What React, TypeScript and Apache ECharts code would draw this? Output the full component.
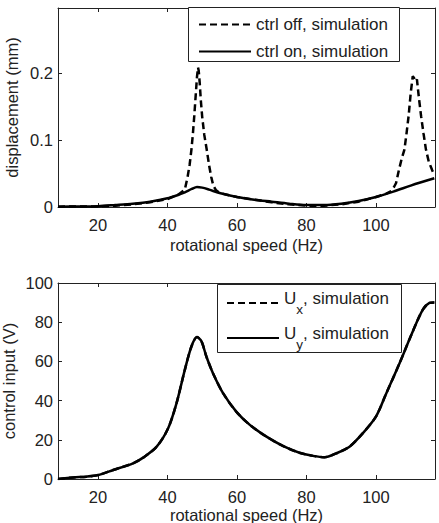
import React, { useEffect, useRef } from "react";
import * as echarts from "echarts";

// Upper panel: displacement vs rotational speed
const offHz = [
  8.5, 15, 20, 25, 30, 35, 40, 43, 45, 45.8, 46.4, 46.9, 47.3, 47.7, 48.1, 48.5, 48.8, 49.0, 49.3,
  49.6, 50.0, 50.6, 51.3, 52.0, 52.6, 53.2, 54, 55, 60, 65, 70, 75, 80, 85, 90, 95, 100, 103, 104.4,
  105.2, 105.8, 106.6, 107.4, 108.2, 108.8, 109.4, 110.0, 110.6, 111.0, 111.4, 111.8, 112.4, 113.0,
  113.7, 114.4, 115.2, 116.2, 116.8,
];
const offDisp = [
  0.0005, 0.0007, 0.001, 0.002, 0.004, 0.007, 0.012, 0.018, 0.026, 0.045, 0.064, 0.086, 0.108, 0.135,
  0.165, 0.195, 0.209, 0.204, 0.185, 0.16, 0.135, 0.108, 0.086, 0.062, 0.045, 0.032, 0.025, 0.021,
  0.015, 0.011, 0.007, 0.004, 0.002, 0.002, 0.004, 0.008, 0.015, 0.02, 0.024, 0.03, 0.036, 0.055,
  0.072, 0.086, 0.11, 0.136, 0.17, 0.196, 0.193, 0.188, 0.191, 0.162, 0.136, 0.11, 0.086, 0.068,
  0.055, 0.048,
];
const onHz = [
  8.5, 15, 20, 25, 30, 35, 40, 43, 45, 47, 48.5, 50, 52, 55, 60, 65, 70, 75, 80, 85, 90, 95, 100, 105,
  110, 113, 116.8,
];
const onDisp = [
  0.0005, 0.0008, 0.0012, 0.003, 0.005, 0.008, 0.013, 0.018, 0.022, 0.027, 0.03, 0.029, 0.026, 0.021,
  0.015, 0.011, 0.008, 0.005, 0.003, 0.003, 0.005, 0.009, 0.015, 0.023, 0.032, 0.037, 0.043,
];

// Lower panel: control input vs rotational speed
const inputHz = [
  8.5, 12.9, 16.7, 20, 24.4, 30.1, 33, 36.9, 40.2, 42.6, 45, 46.9, 48.5, 49.8, 51.2, 53.1, 56, 59.8,
  63.7, 68.5, 73.2, 78, 81.9, 85.2, 88.6, 92.4, 96.2, 100, 103, 106.8, 110.6, 113.5, 115.4, 116.8,
];
const uyVolt = [
  0, 0.8, 1.2, 2.0, 4.6, 8.0, 10.9, 16.5, 25.9, 38.6, 55.7, 67.6, 72.4, 70.2, 62.5, 54.0, 43.8, 34.4,
  27.6, 21.6, 16.9, 13.4, 11.8, 11.1, 13.1, 16.5, 23.3, 31.8, 43.8, 59.1, 75.3, 86.4, 89.8, 90.1,
];
const uxVolt = uyVolt.slice();

const xTicks = [20, 40, 60, 80, 100];
const dispTicks = [0, 0.1, 0.2];
const voltTicks = [0, 20, 40, 60, 80, 100];

const pairs = (xs: number[], ys: number[]) => xs.map((x, i) => [x, ys[i]]);

const ink = "#222";
const font = "'Liberation Sans', Arial, Helvetica, sans-serif";
const dash = [7, 4];
const axisFont = 16.5;
const legendFont = 17;

function xAxisPair(gridIndex: number, nameGap: number) {
  const line = { show: true, onZero: false, lineStyle: { color: ink, width: 1 } };
  const tick = { show: true, inside: true, length: 4, customValues: xTicks, lineStyle: { color: ink } };
  return [
    {
      type: "value", gridIndex, min: 8.5, max: 117, position: "bottom",
      name: "rotational speed (Hz)", nameLocation: "middle", nameGap, nameMoveOverlap: false,
      nameTextStyle: { fontSize: axisFont, color: ink, fontFamily: font },
      axisLine: line, axisTick: tick,
      axisLabel: { customValues: xTicks, fontSize: axisFont, color: ink, fontFamily: font, margin: 9 },
      splitLine: { show: false },
    },
    {
      type: "value", gridIndex, min: 8.5, max: 117, position: "top",
      axisLine: line, axisTick: tick, axisLabel: { show: false }, splitLine: { show: false },
    },
  ];
}

function yAxisPair(gridIndex: number, max: number, ticks: number[], name: string, nameGap: number) {
  const line = { show: true, onZero: false, lineStyle: { color: ink, width: 1 } };
  const tick = { show: true, inside: true, length: 4, customValues: ticks, lineStyle: { color: ink } };
  return [
    {
      type: "value", gridIndex, min: 0, max, position: "left",
      name, nameLocation: "middle", nameGap, nameMoveOverlap: false,
      nameTextStyle: { fontSize: axisFont, color: ink, fontFamily: font },
      axisLine: line, axisTick: tick,
      axisLabel: {
        customValues: ticks, fontSize: axisFont, color: ink, fontFamily: font, margin: 5,
        formatter: (v: number) => String(Math.round(v * 1000) / 1000),
      },
      splitLine: { show: false },
    },
    {
      type: "value", gridIndex, min: 0, max, position: "right",
      axisLine: line, axisTick: tick, axisLabel: { show: false }, splitLine: { show: false },
    },
  ];
}

const legendBase = {
  orient: "vertical", selectedMode: false,
  borderWidth: 0, backgroundColor: "transparent",
  itemWidth: 52, itemHeight: 14,
  itemStyle: { opacity: 0 },
  lineStyle: { opacity: 1 },
};

// Framed legend boxes
const boxStyle = { fill: "#fff", stroke: ink, lineWidth: 1 };

const option: any = {
  animation: false,
  backgroundColor: "#fff",
  textStyle: { fontFamily: font },
  grid: [
    { left: 58, top: 8, width: 377, height: 199, outerBoundsMode: "none" },
    { left: 58, top: 283, width: 377, height: 196, outerBoundsMode: "none" },
  ],
  xAxis: [...xAxisPair(0, 29), ...xAxisPair(1, 27)],
  yAxis: [
    ...yAxisPair(0, 0.298, dispTicks, "displacement (mm)", 38),
    ...yAxisPair(1, 100, voltTicks, "control input (V)", 41),
  ],
  graphic: [
    { type: "rect", z: 3, shape: { x: 188.5, y: 7.5, width: 211, height: 54 }, style: boxStyle },
    { type: "rect", z: 3, shape: { x: 217.5, y: 284.5, width: 184, height: 68 }, style: boxStyle },
  ],
  legend: [
    {
      ...legendBase,
      left: 188, top: 7,
      data: ["ctrl off, simulation", "ctrl on, simulation"],
      padding: [9, 13, 7, 10], itemGap: 10,
      textStyle: { fontSize: legendFont, color: ink, fontFamily: font },
    },
    {
      ...legendBase,
      left: 217, top: 284,
      data: ["Ux", "Uy"],
      padding: [6, 13, 4, 9], itemGap: 9,
      formatter: (n: string) =>
        n === "Ux" ? "{m|U}{s|x}{m|, simulation}" : "{m|U}{s|y}{m|, simulation}",
      textStyle: {
        fontSize: legendFont, color: ink, fontFamily: font,
        rich: {
          m: { fontSize: legendFont, color: ink, fontFamily: font, lineHeight: 26, verticalAlign: "top" },
          s: { fontSize: 13.5, color: ink, fontFamily: font, lineHeight: 16, padding: [12, 0, 0, 0], verticalAlign: "top" },
        },
      },
    },
  ],
  series: [
    {
      name: "ctrl off, simulation", type: "line", xAxisIndex: 0, yAxisIndex: 0,
      data: pairs(offHz, offDisp), showSymbol: false, symbol: "none",
      lineStyle: { color: "#000", width: 2.5, type: dash }, itemStyle: { color: "#000" },
    },
    {
      name: "ctrl on, simulation", type: "line", xAxisIndex: 0, yAxisIndex: 0,
      data: pairs(onHz, onDisp), showSymbol: false, symbol: "none", smooth: 0.3,
      lineStyle: { color: "#000", width: 2.5 }, itemStyle: { color: "#000" },
    },
    {
      name: "Ux", type: "line", xAxisIndex: 2, yAxisIndex: 2,
      data: pairs(inputHz, uxVolt), showSymbol: false, symbol: "none", smooth: 0.3,
      lineStyle: { color: "#000", width: 2.5, type: dash }, itemStyle: { color: "#000" },
    },
    {
      name: "Uy", type: "line", xAxisIndex: 2, yAxisIndex: 2,
      data: pairs(inputHz, uyVolt), showSymbol: false, symbol: "none", smooth: 0.3,
      lineStyle: { color: "#000", width: 2.5 }, itemStyle: { color: "#000" },
    },
  ],
};

export default function App() {
  const ref = useRef<HTMLDivElement>(null);
  useEffect(() => {
    const chart = echarts.init(ref.current!, null, { renderer: "svg" });
    chart.setOption(option);
    return () => chart.dispose();
  }, []);
  return (
    <div
      ref={ref}
      style={{ position: "absolute", left: 0, top: 0, width: 439, height: 523 }}
    />
  );
}
